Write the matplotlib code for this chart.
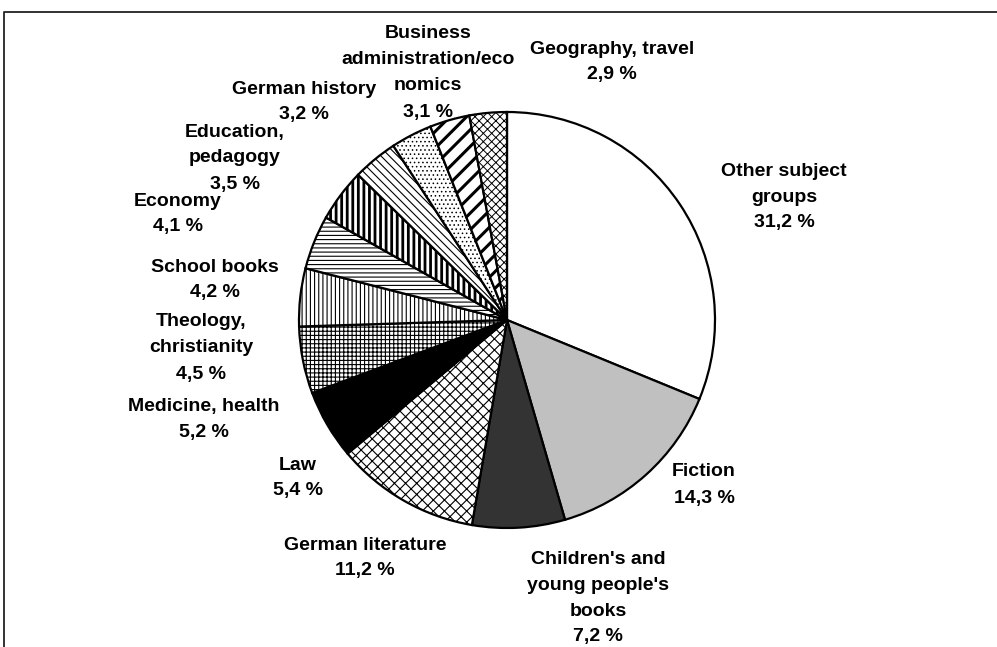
import matplotlib
matplotlib.use("Agg")
import matplotlib.pyplot as plt
from matplotlib.lines import Line2D

# ---- data ----
categories = ["Other subject\ngroups", "Fiction", "Children's and\nyoung people's\nbooks",
              "German literature", "Law", "Medicine, health", "Theology,\nchristianity",
              "School books", "Economy", "Education,\npedagogy", "German history",
              "Business\nadministration/eco\nnomics", "Geography, travel"]
shares = [31.2, 14.3, 7.2, 11.2, 5.4, 5.2, 4.5, 4.2, 4.1, 3.5, 3.2, 3.1, 2.9]
value_labels = ["31,2 %", "14,3 %", "7,2 %", "11,2 %", "5,4 %", "5,2 %", "4,5 %",
                "4,2 %", "4,1 %", "3,5 %", "3,2 %", "3,1 %", "2,9 %"]

# ---- styles ----
fills = ["white", "#c0c0c0", "#333333", "white", "black", "white", "white",
         "white", "white", "white", "white", "white", "white"]
hatches = [None, None, None, "xxx", None, "++++", "||||", "----", "|||", "\\\\\\\\",
           "....", "//", "xxxx"]
hatch_lw = [1, 1, 1, 0.8, 1, 0.8, 0.8, 0.8, 2.0, 0.8, 0.6, 2.2, 0.7]
# label block centres in pixel coordinates (x, y from top)
label_pos = [(784, 195), (704, 483), (598, 596), (365, 556), (298, 476), (204, 418),
             (201, 346), (215, 278), (178, 212), (235, 156), (304, 100), (428, 71),
             (612, 60)]
line_step = 26  # pixels between label lines

W, H = 997, 647
plt.rcParams['font.family'] = ['Liberation Sans', 'DejaVu Sans']
plt.rcParams['hatch.linewidth'] = 0.8

fig = plt.figure(figsize=(W / 100, H / 100), dpi=100)
ax = fig.add_axes([0, 0, 1, 1])

center = (507, H - 320)
radius = 208
wedges, _ = ax.pie(shares, startangle=90, counterclock=False, center=center,
                   radius=radius, colors=fills, frame=True,
                   wedgeprops=dict(edgecolor='black', linewidth=1.6))
ax.set_xlim(0, W)
ax.set_ylim(0, H)
ax.set_aspect('equal')
ax.axis('off')
for w, h, lw in zip(wedges, hatches, hatch_lw):
    if h:
        w.set_hatch(h)
        if hasattr(w, 'set_hatch_linewidth'):
            w.set_hatch_linewidth(lw)

for cat, val, (px, py) in zip(categories, value_labels, label_pos):
    lines = cat.split("\n") + [val]
    n = len(lines)
    for i, s in enumerate(lines):
        y = py + (i - (n - 1) / 2) * line_step
        ax.text(px, H - y, s, ha='center', va='center_baseline',
                fontsize=14, fontweight='bold', color='black')

# frame (clipped at right/bottom)
ax.add_line(Line2D([4, 4, W + 5], [-5, H - 12, H - 12], color='#222222', lw=1.3,
                   clip_on=False))

fig.savefig("out.png", dpi=100)
